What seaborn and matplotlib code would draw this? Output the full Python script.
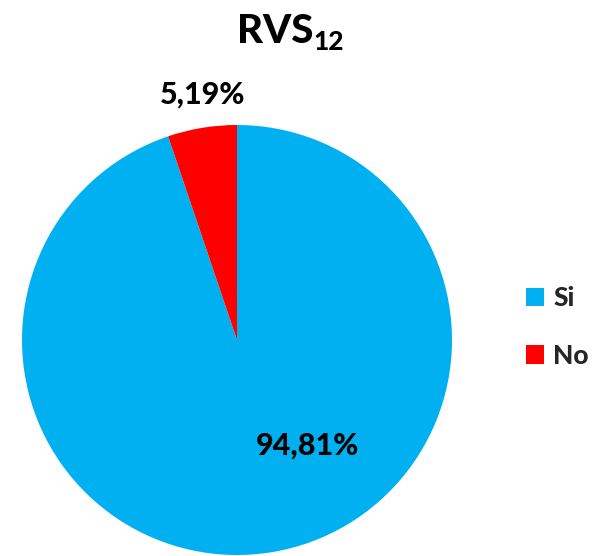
import matplotlib
matplotlib.use("Agg")
import matplotlib.pyplot as plt
import seaborn as sns

categories = ["Si", "No"]
values = [94.81, 5.19]
value_labels = ["94,81%", "5,19%"]
colors = ["#00B0F0", "#FF0000"]
title_main = "RVS"
title_sub = "12"

sns.set_theme(style="white")
plt.rcParams["font.family"] = ["Lato", "DejaVu Sans"]
WEIGHT = "black"

W, H = 597, 556
fig = plt.figure(figsize=(W / 100, H / 100), dpi=100)
cx, cy, r = 237, 340, 215
ax = fig.add_axes([(cx - r) / W, (H - cy - r) / H, 2 * r / W, 2 * r / H])

wedges, _ = ax.pie(values, colors=colors, startangle=90, counterclock=False,
                   wedgeprops=dict(linewidth=0))
ax.set_xlim(-1, 1)
ax.set_ylim(-1, 1)
ax.set_aspect("equal")
ax.axis("off")

label_pos = [(0.326, -0.49), (-0.16, 1.14)]
for (x, y), t in zip(label_pos, value_labels):
    ax.text(x, y, t, ha="center", va="center", fontsize=22, fontweight=WEIGHT,
            color="black", clip_on=False)

t1 = fig.text(275 / W, 1 - 43 / H, title_main, ha="center", va="baseline",
              fontsize=29, fontweight=WEIGHT, color="black")
fig.canvas.draw()
ax.annotate(title_sub, xy=(1, 0), xycoords=t1, xytext=(0.5, 0),
            textcoords="offset points", va="baseline", ha="left",
            fontsize=19, fontweight=WEIGHT, color="black",
            annotation_clip=False)

leg = fig.legend(wedges, categories, loc="center left",
                 bbox_to_anchor=(502 / W, 1 - 327 / H), frameon=False,
                 handlelength=0.7, handleheight=0.7,
                 handletextpad=0.35, labelspacing=1.27,
                 prop=dict(weight=WEIGHT, size=19))

fig.savefig("out.png", dpi=100)
